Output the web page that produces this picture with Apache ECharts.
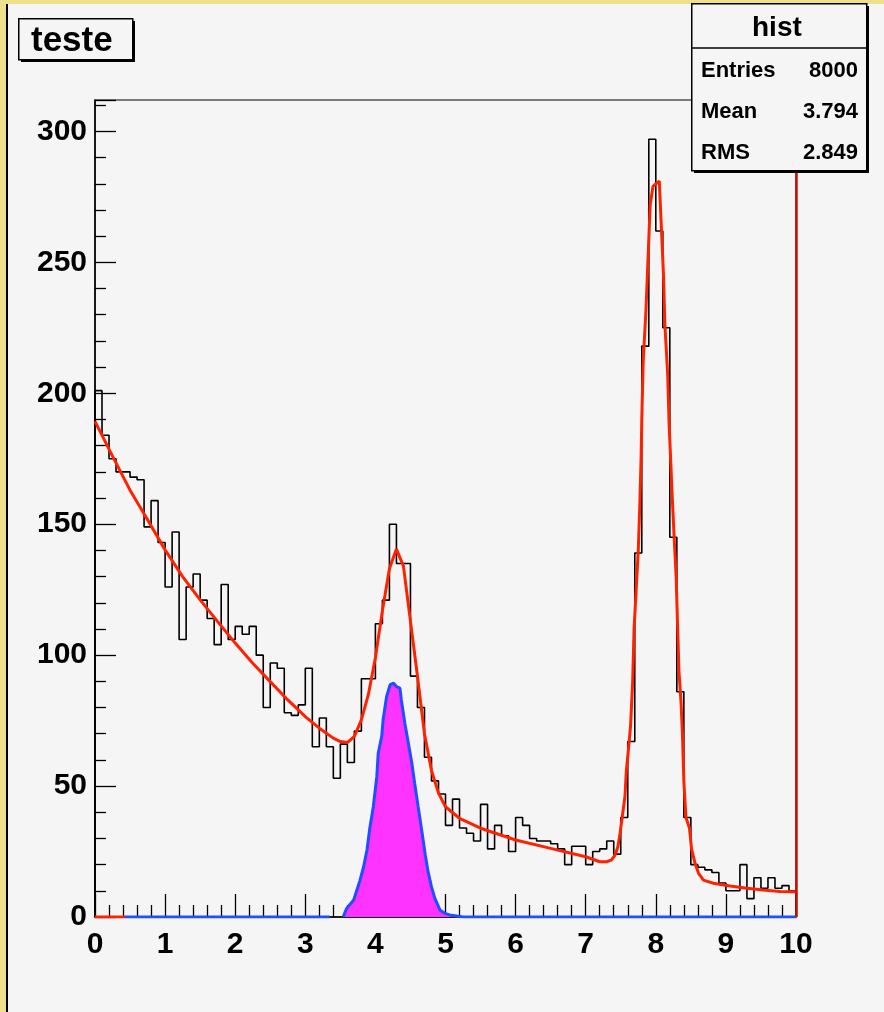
<!DOCTYPE html>
<html><head><meta charset="utf-8">
<script src="https://cdn.jsdelivr.net/npm/echarts@6/dist/echarts.min.js"></script>
<style>html,body{margin:0;padding:0;background:#f5f5f5;}#c{width:884px;height:1012px;}</style>
</head><body><div id="c"></div>
<script>
// ---- data ----
const binWidth = 0.1;
const xMin = 0, xMax = 10;
const counts = [
  201,184,175,170,170,168,167,149,159,143,
  126,147,106,126,131,121,114,104,127,106,
  111,108,111,100,80,97,95,78,77,81,
  95,65,76,65,53,66,59,71,91,91,
  112,121,150,135,135,92,80,61,52,47,
  35,45,34,32,29,43,26,35,31,25,
  38,35,30,29,29,28,26,20,27,27,
  20,25,26,29,24,38,67,139,218,297,
  262,225,145,86,38,20,19,18,17,13,
  10,10,20,7,15,11,15,11,12,10
];
const fitX = [0,0.25,0.5,0.75,1,1.25,1.5,1.75,2,2.25,2.5,2.75,3,3.2,3.4,3.5,3.6,3.7,3.8,3.9,4.0,4.1,4.2,4.3,4.4,4.5,4.6,4.7,4.8,4.9,5.0,5.2,5.5,6.0,6.5,7.0,7.2,7.3,
  7.37,7.42,7.46,7.49,7.52,7.56,7.58,7.61,7.64,7.67,7.69,7.72,7.75,7.77,7.79,7.80,7.82,7.86,7.89,7.92,7.96,8.00,8.05,
  8.08,8.11,8.13,8.17,8.19,8.21,8.23,8.26,8.29,8.31,8.33,8.36,8.38,8.40,8.43,8.48,8.51,8.56,8.61,8.68,8.82,9.06,9.30,9.53,9.77,10.0];
const fitY = [189.3,176,163,151.7,140.2,130,121.1,112.8,104.6,96.9,89.9,82.9,76.5,72.1,68.3,67,66.6,69,75.3,85,99,117,133,140.5,134,113,92,70,56,47.3,42.1,37.7,33.9,29.4,26.2,23,21.1,21.1,
  21.8,23.7,26.9,32,38,46,56,64,73,90,110,125,140,156,175,190,212,232,252,272,279,280,281,
  263,245,226,207,188,176,163,146,130,112,94,82,70,52,38,34,26,20.5,16.7,14.1,12.9,11.8,11,10.3,9.7,9.6];
const sigX = [3.54,3.59,3.69,3.78,3.83,3.88,3.92,3.97,4.02,4.04,4.09,4.11,4.16,4.21,4.26,4.30,4.35,4.37,4.42,4.47,4.52,4.56,4.61,4.66,4.71,4.75,4.80,4.85,4.92,4.99,5.06,5.25,10];
const sigY = [0,3.3,6.5,14,19,25.6,33.9,42.1,53.6,62.5,69,75.3,84.2,88.7,89.3,88,87.4,82.9,74,66.4,58.7,51.1,42.1,33.2,24,17.5,11.5,7,2.7,1.4,0.8,0,0];
const sigBaseX = [0.43, 3.35];
const fitBaseX = [0, 0.43];
const yMax = 312;
const yTickStep = 50;
const xTickStep = 1;
const titleText = 'teste';
const statsTitle = 'hist';
const statsNames = ['Entries', 'Mean', 'RMS'];
const statsValues = ['8000', '3.794', '2.849'];

// ---- build ----
const histPts = [[xMin, 0]];
counts.forEach((c, i) => histPts.push([xMin + i * binWidth, c]));
histPts.push([xMax, counts[counts.length - 1]]);
histPts.push([xMax, 0]);
const fitPts = fitX.map((x, i) => [x, fitY[i]]);
const sigPts = sigX.map((x, i) => [x, sigY[i]]);
const sigBasePts = sigBaseX.map(x => [x, 0]);
const fitBasePts = fitBaseX.map(x => [x, 0]);

const FONT = 'Liberation Sans, Arial, Helvetica, sans-serif';
const chart = echarts.init(document.getElementById('c'), null, {renderer: 'canvas'});

const statRows = [];
statsNames.forEach((n, i) => {
  const yc = 69 + i * 41;
  statRows.push({type: 'text', left: 701, top: yc - 9, z: 12, style: {text: n, font: 'bold 22px ' + FONT, fill: '#000'}});
  statRows.push({type: 'text', right: 884 - 858, top: yc - 9, z: 12, style: {text: statsValues[i], font: 'bold 22px ' + FONT, fill: '#000', textAlign: 'right'}});
});

chart.setOption({
  backgroundColor: '#f5f5f5',
  animation: false,
  grid: {left: 95, top: 100, width: 701, height: 817, show: true, borderColor: '#000', borderWidth: 1.2, backgroundColor: 'transparent'},
  xAxis: {
    type: 'value', min: xMin, max: xMax, interval: xTickStep,
    axisLine: {show: true, onZero: false, lineStyle: {color: '#000', width: 1.5}},
    axisTick: {show: true, inside: true, length: 23, lineStyle: {color: '#000', width: 1.3}},
    minorTick: {show: true, splitNumber: 5, length: 12, lineStyle: {color: '#000', width: 1.3}},
    axisLabel: {color: '#000', fontSize: 30, fontWeight: 'bold', fontFamily: FONT, margin: 13},
    splitLine: {show: false}
  },
  yAxis: {
    type: 'value', min: 0, max: yMax, interval: yTickStep,
    axisLine: {show: true, lineStyle: {color: '#000', width: 1.5}},
    axisTick: {show: true, inside: true, length: 21, lineStyle: {color: '#000', width: 1.3}},
    minorTick: {show: true, splitNumber: 5, length: 11, lineStyle: {color: '#000', width: 1.3}},
    axisLabel: {color: '#000', fontSize: 30, fontWeight: 'bold', fontFamily: FONT, margin: 8, showMaxLabel: false,
      formatter: v => (v % yTickStep === 0 ? String(v) : '')},
    splitLine: {show: false}
  },
  series: [
    {type: 'line', data: histPts, step: 'end', symbol: 'none', z: 2,
      lineStyle: {color: '#000', width: 1.6}},
    {type: 'line', data: sigPts, symbol: 'none', z: 3,
      lineStyle: {color: '#1f4fff', width: 3}, areaStyle: {color: '#ff33ff', opacity: 1}},
    {type: 'line', data: sigBasePts, symbol: 'none', z: 3, lineStyle: {color: '#1f4fff', width: 3}},
    {type: 'line', data: fitPts, symbol: 'none', z: 4, lineStyle: {color: '#ff2200', width: 3},
      markLine: {silent: true, symbol: 'none', label: {show: false}, lineStyle: {color: '#c41200', width: 2.5, type: 'solid'}, data: [{xAxis: xMax}]}},
    {type: 'line', data: fitBasePts, symbol: 'none', z: 4, lineStyle: {color: '#ff2200', width: 3}}
  ],
  graphic: [
    {type: 'rect', left: 0, top: 0, z: 10, shape: {width: 6, height: 1012}, style: {fill: '#efe08a'}},
    {type: 'rect', left: 6, top: 0, z: 10, shape: {width: 2, height: 1012}, style: {fill: '#000'}},
    {type: 'rect', left: 0, top: 0, z: 10, shape: {width: 884, height: 4}, style: {fill: '#efe08a'}},
    // title box
    {type: 'rect', left: 21, top: 21, z: 10, shape: {width: 114, height: 41}, style: {fill: '#000'}},
    {type: 'rect', left: 18, top: 18, z: 11, shape: {width: 114, height: 41}, style: {fill: '#f5f5f5', stroke: '#000', lineWidth: 1.5}},
    {type: 'text', left: 31, top: 24, z: 12, style: {text: titleText, font: 'bold 35px ' + FONT, fill: '#000'}},
    // stats box
    {type: 'rect', left: 694, top: 6, z: 10, shape: {width: 175, height: 167}, style: {fill: '#000'}},
    {type: 'rect', left: 691, top: 3, z: 11, shape: {width: 175, height: 167}, style: {fill: '#f5f5f5', stroke: '#000', lineWidth: 1.5}},
    {type: 'line', z: 12, shape: {x1: 691, y1: 48, x2: 866, y2: 48}, style: {stroke: '#000', lineWidth: 1.5}},
    {type: 'text', left: 752, top: 14, z: 12, style: {text: statsTitle, font: 'bold 28px ' + FONT, fill: '#000'}},
    ...statRows
  ]
});
</script></body></html>
